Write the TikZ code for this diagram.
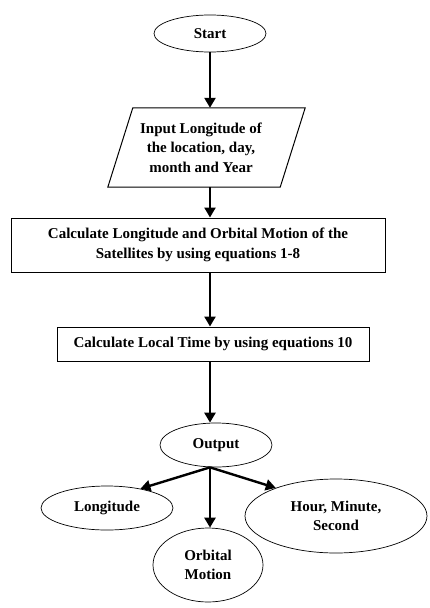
\documentclass[tikz,border=0pt]{standalone}
\usepackage{fontspec}
\setmainfont{Liberation Serif}
\usetikzlibrary{shapes.geometric,arrows.meta}
\begin{document}
\begin{tikzpicture}[x=1pt,y=-1pt,
  every node/.style={font=\fontsize{15}{19.5}\selectfont\bfseries, align=center, inner sep=0pt},
  oval/.style={ellipse, draw, line width=0.7pt},
  boxnode/.style={rectangle, draw, line width=1pt},
  arr/.style={line width=2.4pt, -{Triangle[length=10pt,width=11pt]}}]
\useasboundingbox (0,0) rectangle (429,608);
\node[oval, minimum width=112pt, minimum height=37pt] (start) at (210,33.5) {Start};
\node[minimum width=172pt, minimum height=79pt] (inp) at (201,147.5) {Input Longitude of\\the location, day,\\month and Year};
\draw[line width=1pt] ([xshift=-7pt]inp.south west) -- ([xshift=-7pt]inp.south east) -- ([xshift=18pt]inp.north east) -- ([xshift=18pt]inp.north west) -- cycle;
\node[boxnode, minimum width=374pt, minimum height=54pt] (calc1) at (198,245) {Calculate Longitude and Orbital Motion of the\\Satellites by using equations 1-8};
\node[boxnode, minimum width=312pt, minimum height=34pt] (calc2) at (213,344) {Calculate Local Time by using equations 10};
\node[oval, minimum width=112pt, minimum height=44pt] (out) at (216,445) {Output};
\node[oval, minimum width=132pt, minimum height=44pt] (lon) at (107,508) {Longitude};
\node[oval, minimum width=110pt, minimum height=74pt] (orb) at (208,565) {Orbital\\Motion};
\node[oval, minimum width=182pt, minimum height=74pt] (hour) at (336,516) {Hour, Minute,\\Second};
\draw[arr] (start.south) -- (start.south |- inp.north);
\draw[arr] (start.south |- inp.south) -- (start.south |- calc1.north);
\draw[arr] (start.south |- calc1.south) -- (start.south |- calc2.north);
\draw[arr] (start.south |- calc2.south) -- (start.south |- out.north);
\draw[arr] (start.south |- out.south) -- (lon.30);
\draw[arr] (start.south |- out.south) -- (start.south |- orb.north);
\draw[arr] (start.south |- out.south) -- (hour.155);
\end{tikzpicture}
\end{document}
